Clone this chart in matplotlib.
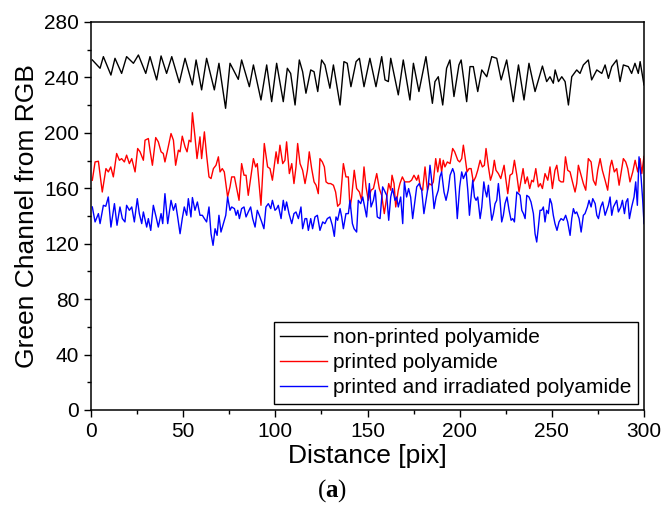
import numpy as np
import matplotlib
matplotlib.use("Agg")
import matplotlib.pyplot as plt
from matplotlib.ticker import MultipleLocator

plt.rcParams['font.family'] = ['Liberation Sans', 'DejaVu Sans']
plt.rcParams['mathtext.fontset'] = 'custom'
plt.rcParams['mathtext.bf'] = 'Liberation Serif:bold'
plt.rcParams['mathtext.rm'] = 'Liberation Serif'

# values (distance in pix, green channel value)
black_x = [0.7, 4.9, 6.7, 10.8, 13.0, 16.6, 19.3, 23.0, 25.7, 29.7, 32.0, 35.6, 38.0, 41.0,
           43.8, 47.9, 51.0, 55.0, 57.0, 60.0, 62.7, 66.9, 69.4, 73.0, 75.4, 79.9, 81.7, 85.9,
           88.1, 92.2, 95.3, 98.0, 100.7, 104.3, 106.5, 108.3, 110.7, 113.0, 114.8, 116.6,
           119.2, 121.0, 123.0, 125.1, 126.9, 129.6, 131.5, 135.1, 137.2, 139.0, 141.0, 143.8,
           145.6, 148.1, 151.3, 154.6, 157.7, 159.5, 161.3, 162.6, 166.7, 169.4, 173.0, 174.9,
           177.9, 181.7, 185.2, 186.6, 188.4, 190.8, 192.9, 194.7, 196.9, 199.6, 200.8, 203.8,
           205.6, 207.4, 209.8, 212.0, 214.7, 217.4, 220.1, 222.5, 225.5, 229.1, 231.9, 234.9,
           237.6, 240.9, 244.9, 247.2, 249.0, 250.8, 251.8, 253.6, 255.4, 257.2, 259.0, 260.8,
           263.5, 265.3, 267.1, 269.8, 271.6, 274.4, 277.1, 278.9, 280.7, 282.5, 285.2, 287.0,
           288.8, 291.5, 293.3, 295.1, 296.9, 297.9, 300.0]
black_y = [252.6, 246.6, 255.0, 241.7, 253.8, 242.9, 255.0, 250.2, 256.2, 242.9, 255.0, 238.2,
           255.5, 242.9, 255.0, 236.2, 253.8, 234.6, 252.6, 231.0, 253.8, 231.0, 250.2, 217.7,
           250.2, 238.6, 252.6, 233.3, 249.0, 223.7, 249.0, 222.5, 250.2, 222.5, 246.6, 242.9,
           220.1, 252.6, 244.1, 228.6, 245.4, 244.1, 229.8, 252.6, 249.0, 232.2, 249.0, 220.1,
           251.4, 250.2, 233.3, 251.4, 253.8, 233.3, 253.8, 233.3, 255.0, 238.2, 237.0, 253.8,
           227.4, 252.6, 223.7, 250.2, 229.8, 255.0, 221.3, 237.0, 240.5, 220.1, 246.6, 252.6,
           226.2, 249.0, 252.6, 222.5, 247.8, 247.8, 229.8, 245.4, 240.5, 255.0, 253.8, 238.2,
           252.6, 222.5, 249.0, 223.7, 250.2, 229.8, 248.2, 237.0, 240.5, 235.8, 245.4, 237.0,
           240.5, 237.0, 220.1, 240.5, 245.4, 242.9, 249.0, 252.6, 238.2, 245.4, 242.9, 249.0,
           239.3, 247.8, 252.6, 237.0, 249.0, 247.8, 242.9, 250.2, 242.9, 251.4, 234.6]

red_x = [0.7, 2.2, 4.0, 6.1, 8.1, 9.4, 10.7, 12.1, 13.9, 15.4, 16.6, 18.1, 19.3, 20.8, 22.1,
         23.9, 25.3, 26.6, 28.4, 29.3, 31.1, 32.0, 33.3, 35.1, 36.5, 38.0, 39.2, 40.1, 41.9,
         43.4, 44.7, 45.9, 47.4, 48.3, 49.5, 51.0, 52.1, 53.2, 54.2, 55.0, 56.4, 57.5, 59.1,
         60.0, 61.5, 62.7, 64.0, 65.1, 66.4, 67.8, 69.1, 70.0, 71.2, 72.3, 74.1, 75.4, 76.3,
         77.8, 78.5, 80.3, 81.7, 83.0, 84.1, 85.3, 88.1, 89.3, 90.2, 92.2, 94.0, 95.8, 97.1,
         98.4, 100.4, 101.4, 102.5, 104.0, 105.2, 106.1, 107.6, 108.9, 110.1, 111.2, 112.1,
         113.4, 114.8, 116.1, 117.4, 118.4, 119.7, 121.0, 122.1, 123.3, 124.2, 125.5, 126.6,
         127.5, 128.7, 130.0, 131.5, 132.7, 133.8, 135.1, 136.0, 136.9, 138.3, 139.6, 140.5,
         141.4, 142.8, 144.1, 145.6, 146.8, 148.1, 149.2, 150.4, 151.9, 153.2, 155.0, 156.4,
         157.7, 159.1, 160.4, 161.5, 162.6, 163.3, 164.4, 165.3, 166.7, 167.6, 168.9, 170.2,
         171.2, 172.7, 173.9, 175.2, 176.7, 177.6, 178.8, 179.9, 181.2, 182.5, 183.5, 184.8,
         185.7, 187.0, 188.1, 189.3, 190.2, 191.1, 192.0, 193.3, 194.8, 196.2, 197.3, 199.0,
         200.0, 201.1, 202.0, 202.9, 204.0, 205.1, 206.2, 207.4, 208.7, 209.8, 211.1, 212.3,
         213.4, 214.3, 215.6, 216.7, 217.8, 218.8, 219.7, 221.0, 222.3, 224.1, 225.0, 226.1,
         227.3, 228.6, 229.7, 231.0, 232.2, 233.3, 234.4, 235.5, 236.7, 238.0, 239.1, 240.0,
         241.3, 242.7, 243.8, 244.9, 246.3, 247.8, 249.0, 250.3, 251.7, 252.7, 253.9, 255.0,
         256.3, 257.4, 258.6, 259.9, 261.2, 262.6, 263.5, 264.4, 265.9, 267.1, 268.4, 269.8,
         271.3, 272.5, 273.8, 274.9, 276.2, 277.4, 278.9, 280.3, 281.6, 282.5, 283.9, 285.2,
         286.5, 287.9, 288.8, 290.1, 291.2, 292.4, 293.9, 295.2, 296.6, 297.9, 298.8, 300.0]
red_y = [165.8, 179.0, 179.5, 157.3, 174.2, 171.8, 175.4, 168.2, 185.1, 180.2, 181.4, 179.0,
         183.9, 177.8, 181.4, 171.8, 188.7, 186.3, 180.2, 194.7, 195.9, 187.5, 176.6, 196.6,
         193.5, 186.3, 185.1, 179.0, 189.9, 199.5, 194.7, 176.6, 187.5, 186.3, 197.6, 189.9,
         186.3, 194.7, 193.5, 214.5, 197.1, 181.4, 197.1, 181.4, 200.7, 183.9, 168.2, 167.0,
         174.2, 176.6, 182.7, 171.8, 174.2, 171.8, 153.7, 161.0, 168.2, 168.2, 163.4, 151.3,
         177.8, 169.4, 169.4, 154.9, 181.4, 175.4, 177.8, 147.7, 192.3, 175.4, 174.2, 165.8,
         186.3, 177.8, 191.1, 177.8, 180.2, 193.5, 170.6, 177.8, 163.4, 175.4, 192.3, 177.8,
         173.0, 163.4, 173.0, 186.3, 174.2, 164.6, 162.2, 156.1, 181.4, 179.0, 175.4, 164.6,
         163.4, 163.4, 162.2, 157.3, 147.0, 148.9, 163.4, 177.8, 168.2, 168.2, 145.3, 153.7,
         173.0, 159.8, 157.3, 151.3, 175.4, 161.0, 151.3, 158.6, 159.8, 170.6, 159.8, 154.9,
         141.7, 153.7, 163.4, 158.6, 169.4, 163.4, 146.5, 158.6, 163.4, 168.2, 164.6, 164.6,
         164.6, 165.8, 169.4, 165.8, 169.4, 159.8, 158.6, 175.4, 158.6, 163.4, 162.2, 164.6,
         181.4, 171.8, 181.4, 171.8, 180.2, 175.4, 179.0, 177.8, 188.7, 186.3, 180.2, 179.0,
         181.4, 191.1, 182.7, 171.8, 174.2, 174.2, 164.6, 168.2, 173.0, 180.2, 175.4, 176.6,
         188.7, 175.4, 165.8, 170.6, 180.2, 173.0, 170.6, 167.0, 176.6, 167.0, 156.1, 169.4,
         170.6, 180.2, 169.4, 157.3, 165.8, 174.2, 163.4, 168.2, 159.8, 165.8, 164.6, 174.2,
         161.0, 163.4, 159.8, 170.6, 165.8, 175.4, 159.8, 173.0, 176.6, 165.8, 164.6, 164.6,
         182.7, 173.0, 171.8, 164.6, 157.3, 163.4, 176.6, 169.4, 163.4, 158.6, 181.4, 179.0,
         165.8, 162.2, 173.0, 181.4, 173.0, 165.8, 158.6, 175.4, 180.2, 171.8, 174.2, 162.2,
         174.2, 181.4, 179.0, 174.2, 164.6, 171.8, 180.2, 171.8, 181.4, 170.6, 183.0]

blue_x = [0.7, 2.2, 4.0, 4.9, 6.7, 8.0, 9.4, 10.8, 12.7, 14.1, 15.7, 17.0, 18.4, 19.3, 20.8,
          22.1, 23.5, 25.1, 26.2, 27.5, 28.4, 30.2, 31.1, 32.4, 33.8, 35.3, 36.5, 38.0, 38.9,
          40.1, 41.6, 43.4, 44.7, 45.9, 47.0, 48.3, 49.5, 50.6, 51.9, 52.8, 54.2, 55.0, 56.4,
          57.7, 59.1, 60.4, 61.5, 62.7, 64.0, 65.1, 66.2, 67.3, 68.4, 69.4, 70.5, 71.8, 73.1,
          74.1, 75.4, 76.3, 77.8, 78.7, 79.6, 80.5, 81.7, 83.0, 84.1, 85.3, 86.6, 87.7, 89.0,
          90.2, 91.3, 92.6, 93.8, 94.9, 96.2, 97.5, 98.4, 99.8, 100.7, 101.6, 103.1, 104.3,
          105.2, 106.1, 107.4, 108.9, 110.1, 111.2, 112.5, 113.9, 114.8, 116.1, 117.0, 117.9,
          119.2, 120.2, 121.5, 122.8, 124.2, 125.7, 126.9, 128.2, 129.6, 130.9, 132.0, 132.9,
          133.8, 135.1, 136.0, 136.9, 138.3, 139.6, 140.5, 141.8, 142.7, 144.1, 145.0, 146.3,
          147.4, 148.6, 149.5, 151.0, 151.9, 153.2, 154.2, 155.3, 156.8, 158.2, 159.1, 160.4,
          161.5, 162.6, 163.6, 164.9, 165.8, 166.7, 168.0, 169.1, 170.0, 171.2, 172.3, 173.4,
          174.5, 175.8, 176.7, 178.1, 179.4, 180.6, 181.7, 183.0, 183.9, 184.8, 186.1, 187.2,
          188.4, 189.3, 190.2, 191.5, 192.6, 193.8, 194.8, 196.2, 197.1, 198.0, 198.7, 200.0,
          201.1, 202.0, 203.5, 204.4, 205.3, 206.2, 207.1, 208.0, 208.9, 209.8, 211.1, 212.0,
          213.1, 213.8, 214.7, 215.6, 216.5, 217.4, 218.3, 219.2, 220.1, 221.0, 221.9, 222.8,
          223.7, 224.6, 225.7, 226.8, 227.9, 228.8, 229.7, 231.0, 231.9, 232.8, 233.7, 234.6,
          235.5, 236.4, 237.6, 238.7, 240.0, 240.9, 241.8, 242.7, 243.6, 244.5, 245.4, 246.3,
          247.2, 248.1, 249.0, 249.9, 250.8, 251.7, 252.8, 253.9, 255.0, 256.3, 257.5, 258.6,
          259.9, 260.8, 261.7, 262.6, 263.5, 264.8, 265.9, 267.1, 268.0, 269.3, 270.2, 271.3,
          272.2, 273.5, 274.4, 275.3, 276.5, 277.6, 278.9, 279.8, 280.7, 281.6, 282.5, 283.4,
          284.3, 285.2, 286.1, 287.4, 288.3, 289.4, 290.3, 291.2, 292.1, 293.3, 294.6, 295.5,
          296.4, 297.3, 298.4, 299.3, 300.0]
blue_y = [146.5, 135.7, 141.7, 134.5, 147.7, 147.0, 153.7, 132.0, 148.9, 133.3, 146.5, 138.1,
          135.7, 147.7, 144.1, 146.5, 135.7, 152.5, 141.7, 134.5, 142.9, 132.0, 138.1, 129.6,
          147.7, 139.3, 132.0, 141.7, 134.5, 156.1, 134.5, 151.3, 144.1, 148.9, 139.3, 127.2,
          138.1, 146.5, 140.5, 152.5, 139.3, 153.3, 144.1, 150.1, 140.5, 140.5, 138.1, 135.7,
          146.5, 127.2, 118.8, 130.8, 126.0, 140.5, 128.4, 134.5, 140.5, 153.7, 144.1, 146.5,
          145.3, 140.5, 144.1, 138.1, 145.3, 146.5, 139.3, 142.9, 146.5, 138.1, 132.0, 144.1,
          140.5, 135.7, 130.8, 146.5, 148.9, 145.3, 151.3, 144.1, 145.3, 147.7, 138.1, 151.3,
          144.1, 150.1, 141.7, 134.5, 141.7, 142.9, 138.1, 146.5, 130.8, 138.1, 138.1, 129.6,
          138.1, 130.8, 139.3, 140.5, 129.6, 135.7, 134.5, 138.1, 139.3, 133.3, 125.3, 139.3,
          136.9, 145.3, 139.3, 130.8, 141.7, 141.7, 151.3, 134.5, 130.8, 128.4, 151.3, 148.9,
          153.7, 145.3, 139.3, 163.4, 146.5, 151.3, 158.6, 139.3, 138.1, 161.0, 158.6, 154.9,
          136.9, 153.7, 159.8, 151.3, 153.7, 146.5, 153.7, 134.5, 164.6, 153.7, 159.8, 153.7,
          138.1, 151.3, 161.0, 163.4, 158.6, 141.7, 151.3, 162.2, 176.6, 165.8, 145.3, 153.7,
          158.6, 168.2, 171.8, 157.3, 151.3, 158.6, 169.4, 174.2, 170.6, 153.7, 138.1, 161.0,
          171.8, 167.0, 171.8, 158.6, 140.5, 153.7, 165.8, 153.7, 151.3, 153.7, 138.1, 146.5,
          164.6, 158.6, 153.7, 162.2, 148.9, 136.9, 141.7, 148.9, 151.3, 163.4, 151.3, 135.7,
          140.5, 148.9, 153.7, 144.1, 136.9, 138.1, 135.7, 157.3, 156.1, 154.9, 144.1, 141.7,
          138.1, 154.9, 153.7, 150.1, 141.7, 127.2, 121.2, 132.0, 144.1, 144.1, 146.5, 135.7,
          144.1, 141.7, 152.5, 148.9, 140.5, 134.5, 129.6, 135.7, 138.1, 136.9, 140.5, 135.7,
          126.0, 138.1, 145.3, 141.7, 142.9, 138.1, 128.4, 140.5, 141.7, 146.5, 151.3, 146.5,
          152.5, 148.9, 140.5, 138.1, 146.5, 150.1, 140.5, 144.1, 147.7, 153.7, 140.5, 146.5,
          148.9, 151.3, 142.9, 146.5, 151.3, 141.7, 150.1, 152.5, 138.1, 146.5, 153.7, 164.6,
          147.7, 182.7, 168.2, 151.3, 134.5]

labels = ['non-printed polyamide', 'printed polyamide', 'printed and irradiated polyamide']

fig = plt.figure(figsize=(6.62, 5.08), dpi=100)
ax = fig.add_axes([0.1375, 0.193, 0.8353, 0.7637])

ax.plot(black_x, black_y, color='black', lw=1.0, label=labels[0])
ax.plot(red_x, red_y, color='#ff0000', lw=1.0, label=labels[1])
ax.plot(blue_x, blue_y, color='#0000ff', lw=1.0, label=labels[2])

ax.set_xlim(0, 300)
ax.set_ylim(0, 280)
ax.xaxis.set_major_locator(MultipleLocator(50))
ax.xaxis.set_minor_locator(MultipleLocator(25))
ax.yaxis.set_major_locator(MultipleLocator(40))
ax.yaxis.set_minor_locator(MultipleLocator(20))
ax.tick_params(which='both', direction='out', labelsize=15, width=1)
ax.tick_params(which='major', length=5)
ax.tick_params(which='minor', length=3)
for s in ax.spines.values():
    s.set_linewidth(1.1)

ax.set_xlabel('Distance [pix]', fontsize=19, labelpad=2)
ax.set_ylabel('Green Channel from RGB', fontsize=19, labelpad=4)

leg = ax.legend(loc='lower right', fontsize=15, fancybox=False, edgecolor='black',
                framealpha=1, handlelength=2.25, labelspacing=0.3, borderpad=0.3,
                handletextpad=0.3, borderaxespad=0.3)
leg.get_frame().set_linewidth(1.0)

fig.text(0.5015, 0.034, r'($\mathbf{a}$)', ha='center', va='center', fontsize=18,
         family='Liberation Serif')

fig.savefig('out.png', dpi=100)
